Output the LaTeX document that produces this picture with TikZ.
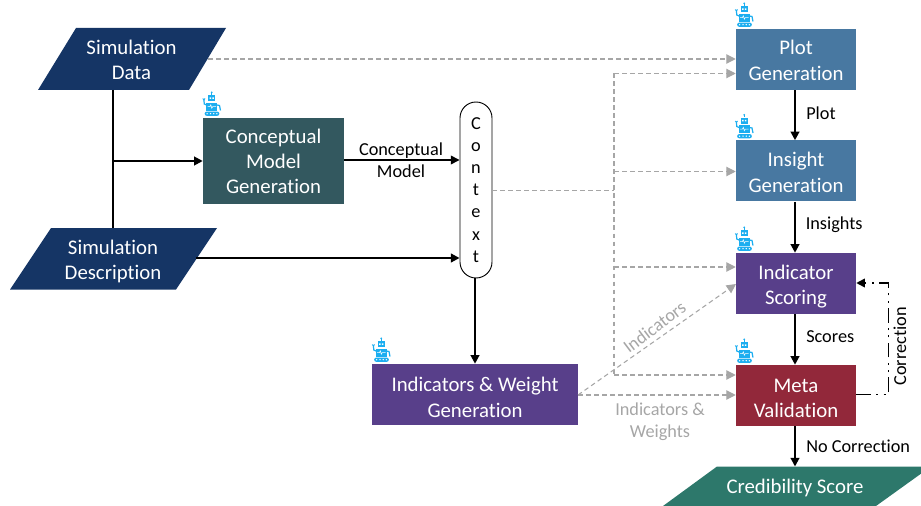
\documentclass[tikz,border=0pt]{standalone}
\usepackage{fontspec}
\setmainfont[RawFeature={-liga;-dlig;-clig}]{Carlito}
\usetikzlibrary{arrows.meta,calc}
\definecolor{cData}{HTML}{153565}
\definecolor{cConcept}{HTML}{33585F}
\definecolor{cPlot}{HTML}{4878A1}
\definecolor{cInd}{HTML}{583F8A}
\definecolor{cMeta}{HTML}{92283A}
\definecolor{cCred}{HTML}{2D786B}
\definecolor{cRobot}{HTML}{1CAEF0}
\definecolor{cDash}{HTML}{A6A6A6}
\newcommand{\topstrut}[1]{\rule{0pt}{#1}}
\tikzset{
  boxnode/.style={draw=none,fill=#1,text=white,inner sep=0pt,align=center,minimum width=90pt,minimum height=45.75pt,font=\fontsize{15.6}{19}\selectfont},
  paratext/.style={text=white,inner sep=0pt,align=center,font=\fontsize{15.6}{19}\selectfont},
  para/.style={fill=#1,draw=none},
  lbl/.style={inner sep=0pt,align=center,font=\fontsize{13.7}{16.5}\selectfont},
  graylbl/.style={lbl,text=cDash},
  flow/.style={draw=black,line width=1.5pt,-{Triangle[length=6.5pt,width=6.5pt]}},
  flowplain/.style={draw=black,line width=1.5pt},
  gdash/.style={draw=cDash,line width=0.8pt,dash pattern=on 3.5pt off 2.5pt},
  garrow/.style={gdash,-{Triangle[length=7pt,width=7pt,fill=cDash]}},
  corr/.style={draw=black,line width=1.3pt,dash pattern=on 11pt off 4pt on 1.5pt off 4pt on 1.5pt off 4pt},
  robot/.pic={
    \fill[cRobot] (8.2,-25.6) circle (1);
    \draw[cRobot,line width=.5pt] (8.2,-25) -- (8.2,-23);
    \fill[cRobot] (4.7,-22.6) rectangle (11.8,-16.6);
    \fill[white] (6.1,-20.6) rectangle (7.6,-19.2) (8.9,-20.6) rectangle (10.4,-19.2);
    \fill[cRobot] (2.7,-15.4) rectangle (13.8,-7.4);
    \draw[white,line width=.4pt] (4,-11.4) -- (6.5,-11.4) -- (7.3,-13.2) -- (8.3,-9.8) -- (9.2,-11.4) -- (12.5,-11.4);
    \fill[cRobot,rounded corners=1.5] (1.2,-6.4) rectangle (15.8,-2.2);
    \fill[white] (3.6,-4.3) circle (.75) (7,-4.3) circle (.75) (10.2,-4.3) circle (.75) (13.4,-4.3) circle (.75);
    \draw[cRobot,line width=.9pt] (3,-13) -- (.8,-14) -- (.4,-18);
    \draw[cRobot,line width=.7pt] (-.7,-19.5) -- (.4,-18) -- (1.5,-19.5);
    \draw[cRobot,line width=.9pt] (13.5,-13) -- (16,-12.5) -- (17,-7.5);
  }
}
\begin{document}
\begin{tikzpicture}[x=0.75pt,y=-0.75pt]
\useasboundingbox (0,0) rectangle (921,506);
\clip (0,0) rectangle (921,506);

% input and output shapes
\fill[para=cData] (76,28) -- (226,28) -- (189,90) -- (38,90) -- cycle;
\fill[para=cData] (51,228) -- (217,228) -- (176,289.5) -- (10,289.5) -- cycle;
\fill[para=cCred] (717,466.5) -- (931,466.5) -- (876,506) -- (663,506) -- cycle;
\node[paratext] (simdata) at (131.5,60) {Simulation\\Data};
\node[paratext] (simdesc) at (113,261.5) {Simulation\\Description};
\node[paratext] (cred) at (795,488) {Credibility Score};

% boxes
\node[boxnode=cConcept,minimum width=105.75pt,minimum height=64.5pt] (concept) at (273.5,161.5) {Conceptual\\Model\\Generation};
\node[boxnode=cInd,minimum width=154.5pt,font=\fontsize{15.6}{19.4}\selectfont] (iw) at (475,394.5) {\topstrut{15pt}Indicators \& Weight\\Generation};
\node[boxnode=cPlot] (plot) at (796,59.5) {\topstrut{12pt}Plot\\Generation};
\node[boxnode=cPlot] (insight) at (796,171) {\topstrut{13pt}Insight\\Generation};
\node[boxnode=cInd] (score) at (796,283.5) {\topstrut{15.5pt}Indicator\\Scoring};
\node[boxnode=cMeta] (meta) at (796,395.5) {\topstrut{14pt}Meta\\Validation};
\node[draw=black,line width=.7pt,fill=white,rounded corners=12pt,inner sep=0pt,minimum width=24pt,minimum height=132pt,align=center,font=\fontsize{13.7}{16.6}\selectfont] (ctx) at (476,190) {C\\o\\n\\t\\e\\x\\t};

% robots
\pic at (736,29) {robot};
\pic at (736,140.5) {robot};
\pic at (736,253) {robot};
\pic at (736,365) {robot};
\pic at (203.5,118) {robot};
\pic at (373,364) {robot};

% helper coordinates
\coordinate (dataS) at (112.5,90);
\coordinate (descN) at (112.5,228);
\coordinate (dataE) at (208,59);
\coordinate (descE) at (196,258);
\coordinate (branch) at (112.5,161);
\coordinate (ctxout) at (492,190.5);
\coordinate (busTop) at (614,73.5);
\coordinate (busIns) at (614,171.5);
\coordinate (busCtx) at (614,190.5);
\coordinate (busScore) at (614,267);
\coordinate (busMeta) at (614,375);
\coordinate (scoreIn) at (736,284);
\coordinate (iwOut) at (578,395);
\coordinate (cornerB) at (888.5,394.5);
\coordinate (cornerT) at (888.5,283);

% black flow
\draw[flowplain] (dataS) -- (descN);
\draw[flow] (branch) -- (branch -| concept.west);
\draw[flow,line width=1.1pt] (concept.east |- 0,160) -- (ctx.west |- 0,160);
\draw[flow] (descE) -- (descE -| ctx.west);
\draw[flow] (ctx.south -| 475,0) -- (iw.north);
\draw[flow] (plot.south) ++(-1,0) -- ($(insight.north)+(-1,0)$);
\draw[flow] (insight.south) ++(-1,0) -- ($(score.north)+(-1,0)$);
\draw[flow] (score.south) ++(-1,0) -- ($(meta.north)+(-1,0)$);
\draw[flow] (meta.south) ++(-1,0) -- (795,466.5);

% grey dashed
\draw[garrow] (dataE) -- (dataE -| plot.west);
\draw[gdash,line width=.6pt] (ctxout) -- (busCtx);
\draw[gdash] (busTop) -- (busMeta);
\draw[garrow] (busTop) -- (busTop -| plot.west);
\draw[garrow] (busIns) -- (busIns -| insight.west);
\draw[garrow] (busScore) -- (busScore -| score.west);
\draw[garrow] (busMeta) -- (busMeta -| meta.west);
\draw[garrow] (iwOut) -- (iwOut -| meta.west);
\draw[garrow] (iwOut) -- (scoreIn);

% correction loop
\draw[corr,-{Triangle[length=6.5pt,width=6.5pt]}] (meta.east |- cornerB) -- (cornerB) -- (cornerT) -- (cornerT -| score.east);

% labels
\node[lbl] (lconcept) at (401,160) {Conceptual\\Model};
\node[lbl,anchor=west] (lplot) at (806,113) {Plot};
\node[lbl,anchor=west] (lins) at (805.5,225) {Insights};
\node[lbl,anchor=west] (lscores) at (806,336.5) {Scores};
\node[lbl,anchor=west] (lnocorr) at (806,446) {No Correction};
\node[lbl,rotate=90] (lcorr) at (900,346.5) {Correction};
\node[graylbl,rotate=37] (lind) at (654.5,327) {Indicators};
\node[graylbl] (liw) at (660,422) {Indicators \&\\Weights};
\end{tikzpicture}
\end{document}
